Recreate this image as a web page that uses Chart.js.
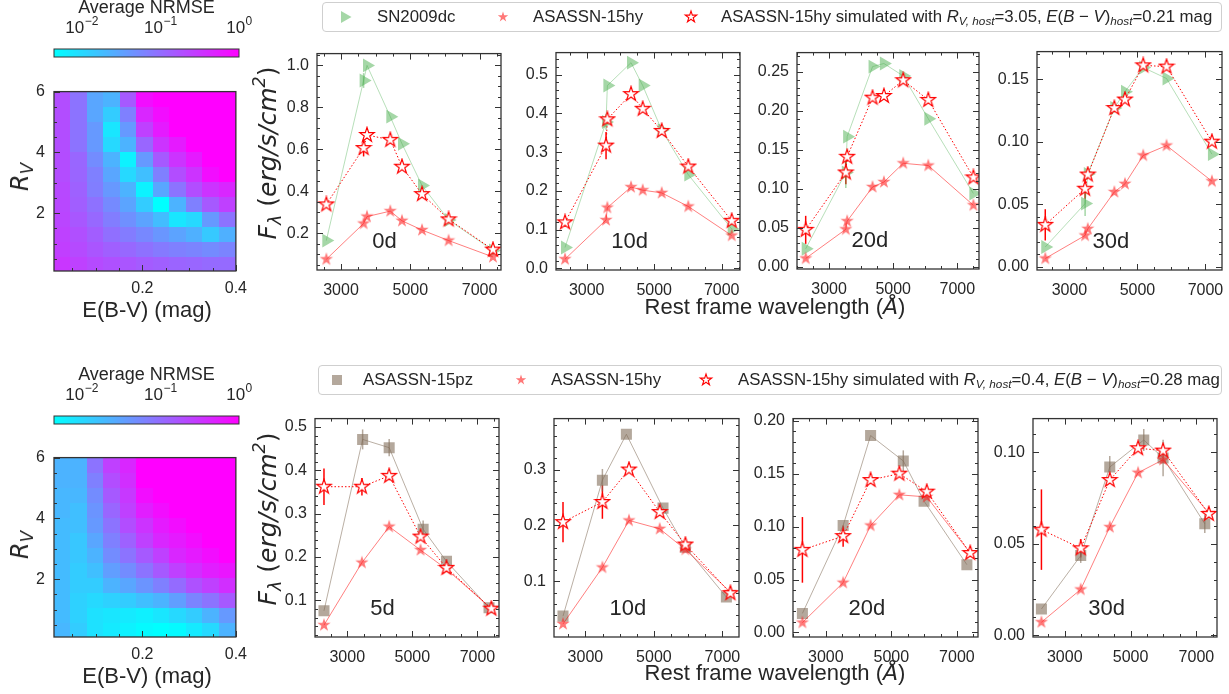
<!DOCTYPE html>
<html><head><meta charset="utf-8">
<script src="https://cdn.jsdelivr.net/npm/chart.js@4.4.1/dist/chart.umd.min.js"></script>
<style>
html,body{margin:0;padding:0;background:#fff}
body{position:relative;width:1229px;height:694px;overflow:hidden;font-family:"Liberation Sans",Arial,sans-serif;color:#262626}
canvas{position:absolute}
.t{position:absolute;white-space:nowrap;line-height:1;transform:translate(-50%,-50%)}
.rot{transform:translate(-50%,-50%) rotate(-90deg)}
.m{font-family:"DejaVu Sans",sans-serif;font-style:oblique}
.u{font-family:"DejaVu Sans",sans-serif;font-style:normal}
.leg{position:absolute;border:1px solid #cfcfcf;border-radius:4px;box-sizing:border-box;background:#fff}
.leg .e{position:absolute;white-space:nowrap;font-size:16.8px;line-height:1;top:50%;transform:translateY(-50%)}
.leg svg{position:absolute;top:50%;transform:translate(-50%,-50%)}
sub{font-size:70%;vertical-align:-0.3em;line-height:0}
sup{font-size:70%;vertical-align:0.6em;line-height:0}
</style></head><body>
<script>
// ================= DATA =================
// Heatmaps: E(B-V) cell edges, R_V cell edges, log10(average NRMSE) per cell (rows bottom -> top)
const ebvEdges = [0.011, 0.0464, 0.0818, 0.1171, 0.1525, 0.1879, 0.2233, 0.2586, 0.294, 0.3294, 0.3647, 0.4];
const rvEdges = [0.1, 0.592, 1.083, 1.575, 2.067, 2.558, 3.05, 3.542, 4.033, 4.525, 5.017, 5.508, 6.0];
const heatXTicks = [0.2, 0.4];
const heatYTicks = [2, 4, 6];
const cbarTicks = [0.01, 0.1, 1];
const cbarLogMin = -2.35, cbarLogMax = 0;
const logNrmseTop = [
  [-0.50,-0.60,-0.68,-0.74,-0.78,-0.84,-0.88,-0.92,-0.94,-0.98,-0.98],
  [-0.57,-0.68,-0.78,-0.88,-0.96,-1.04,-1.12,-1.18,-1.22,-1.28,-1.22],
  [-0.60,-0.73,-0.86,-1.02,-1.14,-1.25,-1.38,-1.50,-1.62,-1.85,-1.62],
  [-0.64,-0.80,-0.96,-1.15,-1.33,-1.50,-1.74,-2.12,-2.00,-1.41,-1.06],
  [-0.65,-0.87,-1.04,-1.27,-1.51,-1.88,-2.35,-1.65,-1.18,-0.82,-0.59],
  [-0.66,-0.89,-1.16,-1.40,-1.65,-2.23,-1.53,-1.06,-0.71,-0.47,-0.35],
  [-0.70,-0.93,-1.18,-1.53,-2.00,-1.76,-1.18,-0.71,-0.47,-0.12, 0.00],
  [-0.70,-0.94,-1.29,-1.65,-2.23,-1.41,-0.82,-0.47,-0.24, 0.00, 0.00],
  [-0.71,-1.06,-1.41,-2.00,-1.65,-0.94,-0.47,-0.24, 0.00, 0.00, 0.00],
  [-0.71,-1.06,-1.41,-2.12,-1.41,-0.59,-0.24, 0.00, 0.00, 0.00, 0.00],
  [-0.71,-1.06,-1.53,-1.88,-1.18,-0.35,-0.12, 0.00, 0.00, 0.00, 0.00],
  [-0.71,-1.06,-1.53,-1.65,-0.82,-0.12, 0.00, 0.00, 0.00, 0.00, 0.00]
];
const logNrmseBottom = [
  [-1.69,-1.88,-2.07,-2.16,-2.23,-2.30,-2.35,-2.30,-2.16,-2.00,-1.65],
  [-1.72,-1.93,-2.07,-2.12,-2.16,-2.21,-2.12,-2.00,-1.88,-1.65,-1.41],
  [-1.72,-1.93,-2.00,-1.93,-1.88,-1.76,-1.65,-1.46,-1.22,-1.06,-0.82],
  [-1.72,-1.88,-1.88,-1.65,-1.53,-1.36,-1.18,-0.99,-0.75,-0.59,-0.42],
  [-1.72,-1.88,-1.76,-1.46,-1.29,-1.06,-0.82,-0.59,-0.42,-0.28,-0.19],
  [-1.72,-1.83,-1.65,-1.29,-1.06,-0.82,-0.59,-0.35,-0.24,-0.12, 0.00],
  [-1.72,-1.83,-1.53,-1.18,-0.89,-0.59,-0.35,-0.24,-0.12, 0.00, 0.00],
  [-1.72,-1.76,-1.41,-1.06,-0.71,-0.47,-0.24,-0.12, 0.00, 0.00, 0.00],
  [-1.69,-1.76,-1.36,-0.94,-0.59,-0.28,-0.12, 0.00, 0.00, 0.00, 0.00],
  [-1.69,-1.69,-1.29,-0.82,-0.52,-0.12, 0.00, 0.00, 0.00, 0.00, 0.00],
  [-1.65,-1.65,-1.18,-0.71,-0.42, 0.00, 0.00, 0.00, 0.00, 0.00, 0.00],
  [-1.65,-1.65,-1.06,-0.59,-0.35, 0.00, 0.00, 0.00, 0.00, 0.00, 0.00]
];

// Top row: SN2009dc vs ASASSN-15hy (rest-frame wavelength in Angstrom, flux)
const xTicksSED = [3000, 5000, 7000];
const wl_0d  = [2576, 3652, 3750, 4423, 4760, 5338, 6106, 7387];
const sn09dc_0d = [0.166, 0.927, 0.999, 0.755, 0.626, 0.428, 0.264, 0.119];
const sn09dcErr_0d = [0, 0.035, 0, 0, 0, 0, 0, 0];
const hy_0d = [0.077, 0.247, 0.280, 0.306, 0.260, 0.216, 0.166, 0.088];
const hySim_0d = [0.338, 0.606, 0.668, 0.645, 0.517, 0.387, 0.267, 0.123];
const hySimErr_0d = [0.012, 0.04, 0.012, 0.01, 0.01, 0.008, 0.006, 0.006];

const wl_10d = [2357, 3573, 3612, 4313, 4659, 5222, 6010, 7296];
const sn09dc_10d = [0.054, 0.378, 0.472, 0.531, 0.472, 0.357, 0.242, 0.102];
const sn09dcErr_10d = [0, 0.02, 0, 0, 0, 0, 0, 0];
const hy_10d = [0.024, 0.125, 0.157, 0.210, 0.202, 0.195, 0.160, 0.085];
const hySim_10d = [0.119, 0.317, 0.385, 0.450, 0.412, 0.355, 0.263, 0.123];
const hySimErr_10d = [0.012, 0.035, 0.01, 0.006, 0.006, 0.005, 0.004, 0.004];

const wl_20d = [2271, 3522, 3563, 4356, 4709, 5313, 6094, 7500];
const sn09dc_20d = [0.023, 0.121, 0.167, 0.257, 0.261, 0.245, 0.190, 0.094];
const sn09dcErr_20d = [0, 0.02, 0, 0, 0, 0, 0, 0];
const hy_20d = [0.0106, 0.048, 0.0585, 0.1024, 0.1087, 0.1328, 0.1299, 0.0789];
const hySim_20d = [0.0473, 0.121, 0.1412, 0.2171, 0.2193, 0.2395, 0.2142, 0.1147];
const hySimErr_20d = [0.018, 0.015, 0.006, 0.003, 0.003, 0.003, 0.003, 0.003];

const wl_30d = [2288, 3460, 3539, 4319, 4633, 5169, 5855, 7190];
const sn09dc_30d = [0.0158, 0.0505, 0.0742, 0.1269, 0.140, 0.1593, 0.1505, 0.0900];
const sn09dcErr_30d = [0, 0.01, 0, 0, 0, 0, 0, 0];
const hy_30d = [0.0066, 0.025, 0.0303, 0.0598, 0.0663, 0.089, 0.0969, 0.0684];
const hySim_30d = [0.0335, 0.0624, 0.0737, 0.1269, 0.1337, 0.161, 0.160, 0.100];
const hySimErr_30d = [0.0125, 0.008, 0.003, 0.002, 0.002, 0.002, 0.002, 0.002];

// Bottom row: ASASSN-15pz vs ASASSN-15hy
const wlPz_5d = [2285, 3472, 4288, 5331, 6049, 7356];
const pz_5d = [0.076, 0.471, 0.452, 0.264, 0.190, 0.083];
const pzErr_5d = [0, 0.023, 0.02, 0.02, 0.005, 0];
const wlHy_5d = [2285, 3451, 4288, 5251, 6049, 7426];
const hyB_5d = [0.043, 0.187, 0.270, 0.216, 0.172, 0.081];
const hySimB_5d = [0.362, 0.362, 0.387, 0.247, 0.175, 0.081];
const hySimErrB_5d = [0.042, 0.02, 0.01, 0.008, 0.005, 0.004];

const wlPz_10d = [2346, 3496, 4197, 5266, 5920, 7117];
const pz_10d = [0.038, 0.281, 0.363, 0.231, 0.161, 0.072];
const pzErr_10d = [0, 0.02, 0, 0, 0, 0];
const wlHy_10d = [2346, 3496, 4273, 5170, 5920, 7234];
const hyB_10d = [0.024, 0.125, 0.209, 0.194, 0.157, 0.081];
const hySimB_10d = [0.206, 0.242, 0.300, 0.224, 0.166, 0.079];
const hySimErrB_10d = [0.036, 0.03, 0.006, 0.005, 0.004, 0.003];

const wlPz_20d = [2287, 3529, 4367, 5364, 5998, 7304];
const pz_20d = [0.018, 0.101, 0.186, 0.162, 0.124, 0.064];
const pzErr_20d = [0, 0, 0, 0.01, 0, 0];
const wlHy_20d = [2287, 3529, 4367, 5243, 6081, 7406];
const hyB_20d = [0.0093, 0.047, 0.101, 0.130, 0.128, 0.075];
const hySimB_20d = [0.078, 0.091, 0.144, 0.150, 0.133, 0.075];
const hySimErrB_20d = [0.031, 0.01, 0.003, 0.003, 0.003, 0.002];

const wlPz_30d = [2292, 3486, 4368, 5401, 5988, 7255];
const pz_30d = [0.0144, 0.0436, 0.092, 0.1068, 0.097, 0.061];
const pzErr_30d = [0, 0.004, 0.006, 0.006, 0.01, 0.005];
const wlHy_30d = [2292, 3486, 4368, 5228, 5988, 7378];
const hyB_30d = [0.0072, 0.0251, 0.0592, 0.0889, 0.096, 0.0669];
const hySimB_30d = [0.0578, 0.0476, 0.0849, 0.1023, 0.101, 0.0664];
const hySimErrB_30d = [0.022, 0.005, 0.002, 0.002, 0.002, 0.002];

// ================= RENDERING =================
const FONT = '"Liberation Sans", Arial, sans-serif';
const INK = '#262626';
Chart.defaults.font.family = FONT;
Chart.defaults.color = INK;

const C_GREEN = 'rgba(76,175,80,0.5)';
const C_RED = 'rgba(255,30,30,0.6)';
const C_SIM = 'rgba(255,0,0,1)';
const C_PZ = 'rgba(130,110,90,0.6)';

function mkCanvas(left, top, w, h) {
  const c = document.createElement('canvas');
  c.width = w; c.height = h;
  c.style.left = left + 'px'; c.style.top = top + 'px';
  c.style.width = w + 'px'; c.style.height = h + 'px';
  document.body.appendChild(c);
  return c;
}
function starPts(cx, cy, R, ratio) {
  const pts = [];
  for (let k = 0; k < 10; k++) {
    const rad = k % 2 ? R * ratio : R;
    const a = -Math.PI / 2 + k * Math.PI / 5;
    pts.push([cx + rad * Math.cos(a), cy + rad * Math.sin(a)]);
  }
  return pts;
}
function starImage(size, R, fill, stroke, lw) {
  const c = document.createElement('canvas');
  c.width = c.height = size;
  const g = c.getContext('2d');
  const pts = starPts(size / 2, size / 2, R, 0.382);
  g.beginPath();
  pts.forEach((p, i) => i ? g.lineTo(p[0], p[1]) : g.moveTo(p[0], p[1]));
  g.closePath();
  if (fill) { g.fillStyle = fill; g.fill(); }
  if (stroke) { g.strokeStyle = stroke; g.lineWidth = lw; g.stroke(); }
  return c;
}
const imgStarFilled = starImage(16, 7, C_RED, null, 0);
const imgStarOpen = starImage(18, 7.6, '#ffffff', C_SIM, 1.2);

function coolColor(lv) {
  let t = (lv - cbarLogMin) / (cbarLogMax - cbarLogMin);
  t = Math.max(0, Math.min(1, t));
  return `rgb(${Math.round(255 * t)},${Math.round(255 * (1 - t))},255)`;
}

// frame + inward ticks
Chart.register({
  id: 'frame',
  afterDraw(chart, args, o) {
    if (!o || !o.on) return;
    const { ctx, chartArea: a, scales: { x, y } } = chart;
    ctx.save();
    ctx.strokeStyle = '#333333';
    ctx.lineWidth = 1;
    const all = o.sides === 'all';
    const minorVals = (sc, step) => {
      const out = []; const n0 = Math.ceil(sc.min / step - 1e-9), n1 = Math.floor(sc.max / step + 1e-9);
      for (let n = n0; n <= n1; n++) out.push(n * step);
      return out;
    };
    const tickX = (v, len) => {
      const p = Math.round(x.getPixelForValue(v)) + 0.5;
      ctx.beginPath(); ctx.moveTo(p, a.bottom); ctx.lineTo(p, a.bottom - len);
      if (all) { ctx.moveTo(p, a.top); ctx.lineTo(p, a.top + len); }
      ctx.stroke();
    };
    const tickY = (v, len) => {
      const p = Math.round(y.getPixelForValue(v)) + 0.5;
      ctx.beginPath(); ctx.moveTo(a.left, p); ctx.lineTo(a.left + len, p);
      if (all) { ctx.moveTo(a.right, p); ctx.lineTo(a.right - len, p); }
      ctx.stroke();
    };
    minorVals(x, o.xMinor).forEach(v => tickX(v, 3));
    minorVals(y, o.yMinor).forEach(v => tickY(v, 3));
    x.ticks.forEach(t => tickX(t.value, 6));
    y.ticks.forEach(t => tickY(t.value, 6));
    ctx.lineWidth = 1.3;
    ctx.strokeRect(a.left, a.top, a.right - a.left, a.bottom - a.top);
    if (o.phase) {
      ctx.font = `22px ${FONT}`; ctx.fillStyle = INK; ctx.textAlign = 'left'; ctx.textBaseline = 'alphabetic';
      ctx.fillText(o.phase, a.left + 0.3 * (a.right - a.left), a.bottom - 0.1 * (a.bottom - a.top));
    }
    ctx.restore();
  }
});
// error bars
Chart.register({
  id: 'errbars',
  beforeDatasetsDraw(chart) {
    const { ctx, scales: { x, y } } = chart;
    chart.data.datasets.forEach(ds => {
      if (!ds.errors) return;
      ctx.save(); ctx.strokeStyle = ds.errColor; ctx.lineWidth = 1.5;
      ds.data.forEach((p, i) => {
        const e = ds.errors[i]; if (!e) return;
        const px = x.getPixelForValue(p.x);
        ctx.beginPath(); ctx.moveTo(px, y.getPixelForValue(p.y - e)); ctx.lineTo(px, y.getPixelForValue(p.y + e)); ctx.stroke();
      });
      ctx.restore();
    });
  }
});
// heatmap cells
Chart.register({
  id: 'heat',
  beforeDatasetsDraw(chart, args, o) {
    if (!o || !o.grid) return;
    const { ctx, scales: { x, y } } = chart;
    o.grid.forEach((row, j) => row.forEach((lv, i) => {
      const x0 = x.getPixelForValue(ebvEdges[i]), x1 = x.getPixelForValue(ebvEdges[i + 1]);
      const y0 = y.getPixelForValue(rvEdges[j + 1]), y1 = y.getPixelForValue(rvEdges[j]);
      ctx.fillStyle = coolColor(lv);
      ctx.fillRect(Math.floor(x0), Math.floor(y0), Math.ceil(x1) - Math.floor(x0), Math.ceil(y1) - Math.floor(y0));
    }));
  }
});
// colorbar
Chart.register({
  id: 'cbar',
  afterDraw(chart, args, o) {
    if (!o || !o.on) return;
    const { ctx, chartArea: a, scales: { x } } = chart;
    ctx.save();
    for (let px = Math.floor(a.left); px < a.right; px++) {
      ctx.fillStyle = coolColor(Math.log10(x.getValueForPixel(px + 0.5)));
      ctx.fillRect(px, a.top, 1, a.bottom - a.top);
    }
    ctx.strokeStyle = '#333'; ctx.lineWidth = 1;
    ctx.strokeRect(a.left, a.top, a.right - a.left, a.bottom - a.top);
    ctx.fillStyle = INK; ctx.textBaseline = 'alphabetic';
    cbarTicks.forEach(v => {
      const e = Math.round(Math.log10(v));
      const es = e < 0 ? '\u2212' + (-e) : String(e);
      ctx.font = `17px ${FONT}`; const w1 = ctx.measureText('10').width;
      ctx.font = `12px ${FONT}`; const w2 = ctx.measureText(es).width;
      const cx = x.getPixelForValue(v);
      const left = cx - (w1 + w2) / 2;
      ctx.font = `17px ${FONT}`; ctx.textAlign = 'left'; ctx.fillText('10', left, a.top + o.labelDy);
      ctx.font = `12px ${FONT}`; ctx.fillText(es, left + w1 + 0.5, a.top + o.labelDy - 8);
    });
    ctx.font = `18px ${FONT}`; ctx.textAlign = 'center';
    ctx.fillText('Average NRMSE', (a.left + a.right) / 2, a.top + o.titleDy);
    ctx.restore();
  }
});

function colorbar(box, canvasTop) {
  const W = 260, H = box[3] - canvasTop + 4;
  const cv = mkCanvas(0, canvasTop, W, H);
  new Chart(cv, {
    type: 'scatter', data: { datasets: [] },
    options: {
      responsive: false, animation: false, events: [],
      layout: { padding: { left: box[0], top: box[1] - canvasTop, right: W - box[2], bottom: 4 } },
      plugins: { legend: { display: false }, tooltip: { enabled: false }, cbar: { on: true, labelDy: -16, titleDy: -36 } },
      scales: {
        x: { type: 'logarithmic', display: false, min: Math.pow(10, cbarLogMin), max: Math.pow(10, cbarLogMax) },
        y: { display: false, min: 0, max: 1 }
      }
    }
  });
}

function heatmap(box, grid) {
  const PT = 14, PR = 16, PB = 34;
  const W = box[2] + PR, H = box[3] - box[1] + PT + PB;
  const cv = mkCanvas(0, box[1] - PT, W, H);
  new Chart(cv, {
    type: 'scatter', data: { datasets: [] },
    options: {
      responsive: false, animation: false, events: [],
      layout: { padding: { top: PT, right: PR, left: 0, bottom: 0 } },
      plugins: { legend: { display: false }, tooltip: { enabled: false }, heat: { grid }, frame: { on: true, xMinor: 0.05, yMinor: 0.5, sides: 'lb' } },
      scales: {
        x: { type: 'linear', min: ebvEdges[0], max: ebvEdges[ebvEdges.length - 1],
          grid: { display: false, drawTicks: false }, border: { display: false },
          afterBuildTicks: s => { s.ticks = heatXTicks.map(v => ({ value: v })); },
          afterFit: s => { s.height = PB; },
          ticks: { padding: 8, font: { size: 16 }, autoSkip: false, maxRotation: 0, callback: v => v.toFixed(1) } },
        y: { type: 'linear', min: rvEdges[0], max: rvEdges[rvEdges.length - 1],
          grid: { display: false, drawTicks: false }, border: { display: false },
          afterBuildTicks: s => { s.ticks = heatYTicks.map(v => ({ value: v })); },
          afterFit: s => { s.width = box[0]; },
          ticks: { padding: 9, font: { size: 16 }, autoSkip: false, callback: v => String(v) } }
      }
    }
  });
}

const pts = (wl, v) => wl.map((x, i) => ({ x, y: v[i] }));
function dsSim(wl, v, err) {
  return { data: pts(wl, v), showLine: true, borderColor: C_SIM, borderWidth: 1, borderDash: [1.5, 2],
    pointStyle: imgStarOpen, pointRadius: 6, errors: err, errColor: C_SIM, order: 0 };
}
function dsHy(wl, v) {
  return { data: pts(wl, v), showLine: true, borderColor: 'rgba(255,0,0,0.5)', borderWidth: 1,
    pointStyle: imgStarFilled, pointRadius: 6, order: 1 };
}
function dsGreen(wl, v, err) {
  return { data: pts(wl, v), showLine: true, borderColor: 'rgba(76,175,80,0.4)', borderWidth: 1,
    pointStyle: 'triangle', pointRotation: 90, pointRadius: 8, backgroundColor: C_GREEN, pointBorderWidth: 0,
    errors: err, errColor: 'rgba(76,175,80,0.5)', order: 2 };
}
function dsPz(wl, v, err) {
  return { data: pts(wl, v), showLine: true, borderColor: 'rgba(130,110,90,0.55)', borderWidth: 1,
    pointStyle: 'rect', pointRadius: 7.8, backgroundColor: C_PZ, pointBorderWidth: 0,
    errors: err, errColor: 'rgba(130,110,90,0.6)', order: 2 };
}

function sedPanel(p) {
  const PL = 62, PT = 14, PR = 30, PB = 36;
  const b = p.box;
  const W = b[2] - b[0] + PL + PR, H = b[3] - b[1] + PT + PB;
  const cv = mkCanvas(b[0] - PL, b[1] - PT, W, H);
  new Chart(cv, {
    type: 'scatter',
    data: { datasets: p.sets.map(d => Object.assign({ clip: 0, tension: 0 }, d)) },
    options: {
      responsive: false, animation: false, events: [],
      layout: { padding: { top: PT, right: PR, left: 0, bottom: 0 } },
      plugins: { legend: { display: false }, tooltip: { enabled: false },
        frame: { on: true, xMinor: 500, yMinor: p.ym, sides: 'all', phase: p.phase } },
      scales: {
        x: { type: 'linear', min: p.xr[0], max: p.xr[1],
          grid: { display: false, drawTicks: false }, border: { display: false },
          afterBuildTicks: s => { s.ticks = xTicksSED.map(v => ({ value: v })); },
          afterFit: s => { s.height = PB; },
          ticks: { padding: 11, font: { size: 16 }, autoSkip: false, maxRotation: 0, callback: v => String(v) } },
        y: { type: 'linear', min: p.yr[0], max: p.yr[1],
          grid: { display: false, drawTicks: false }, border: { display: false },
          afterBuildTicks: s => { s.ticks = p.yt.map(v => ({ value: v })); },
          afterFit: s => { s.width = PL; },
          ticks: { padding: 8, font: { size: 16 }, autoSkip: false, callback: v => v.toFixed(p.dec) } }
      }
    }
  });
}

// ---- layout ----
colorbar([54, 49, 239, 57], 0);
heatmap([54, 87, 239, 271], logNrmseTop);
colorbar([54, 416, 239, 424], 360);
heatmap([54, 453, 239, 637], logNrmseBottom);

const panels = [
  { box: [317, 50, 501, 270], xr: [2307, 7618], yr: [0.026, 1.055], yt: [0.2, 0.4, 0.6, 0.8, 1.0], ym: 0.05, dec: 1, phase: '0d',
    sets: [dsSim(wl_0d, hySim_0d, hySimErr_0d), dsHy(wl_0d, hy_0d), dsGreen(wl_0d, sn09dc_0d, sn09dcErr_0d)] },
  { box: [556, 49, 740, 270], xr: [2090, 7542], yr: [-0.004, 0.557], yt: [0, 0.1, 0.2, 0.3, 0.4, 0.5], ym: 0.02, dec: 1, phase: '10d',
    sets: [dsSim(wl_10d, hySim_10d, hySimErr_10d), dsHy(wl_10d, hy_10d), dsGreen(wl_10d, sn09dc_10d, sn09dcErr_10d)] },
  { box: [797, 49, 979, 269], xr: [2000, 7675], yr: [-0.003, 0.275], yt: [0, 0.05, 0.1, 0.15, 0.2, 0.25], ym: 0.01, dec: 2, phase: '20d',
    sets: [dsSim(wl_20d, hySim_20d, hySimErr_20d), dsHy(wl_20d, hy_20d), dsGreen(wl_20d, sn09dc_20d, sn09dcErr_20d)] },
  { box: [1037, 48, 1222, 270], xr: [2045, 7486], yr: [-0.0026, 0.172], yt: [0, 0.05, 0.1, 0.15], ym: 0.01, dec: 2, phase: '30d',
    sets: [dsSim(wl_30d, hySim_30d, hySimErr_30d), dsHy(wl_30d, hy_30d), dsGreen(wl_30d, sn09dc_30d, sn09dcErr_30d)] },
  { box: [315, 415, 499, 637], xr: [2009, 7662], yr: [0.0156, 0.519], yt: [0.1, 0.2, 0.3, 0.4, 0.5], ym: 0.02, dec: 1, phase: '5d',
    sets: [dsSim(wlHy_5d, hySimB_5d, hySimErrB_5d), dsHy(wlHy_5d, hyB_5d), dsPz(wlPz_5d, pz_5d, pzErr_5d)] },
  { box: [554, 415, 739, 637], xr: [2083, 7485], yr: [0.0007, 0.391], yt: [0.1, 0.2, 0.3], ym: 0.02, dec: 1, phase: '10d',
    sets: [dsSim(wlHy_10d, hySimB_10d, hySimErrB_10d), dsHy(wlHy_10d, hyB_10d), dsPz(wlPz_10d, pz_10d, pzErr_10d)] },
  { box: [793, 415, 978, 637], xr: [2000, 7643], yr: [-0.0043, 0.202], yt: [0, 0.05, 0.1, 0.15, 0.2], ym: 0.01, dec: 2, phase: '20d',
    sets: [dsSim(wlHy_20d, hySimB_20d, hySimErrB_20d), dsHy(wlHy_20d, hyB_20d), dsPz(wlPz_20d, pz_20d, pzErr_20d)] },
  { box: [1033, 415, 1217, 637], xr: [2036, 7626], yr: [-0.0009, 0.1185], yt: [0, 0.05, 0.1], ym: 0.01, dec: 2, phase: '30d',
    sets: [dsSim(wlHy_30d, hySimB_30d, hySimErrB_30d), dsHy(wlHy_30d, hyB_30d), dsPz(wlPz_30d, pz_30d, pzErr_30d)] }
];
panels.forEach(sedPanel);

// ---- text ----
function text(html, x, y, size, cls) {
  const d = document.createElement('div');
  d.className = 't' + (cls ? ' ' + cls : '');
  d.style.left = x + 'px'; d.style.top = y + 'px'; d.style.fontSize = size + 'px';
  d.innerHTML = html;
  document.body.appendChild(d);
}
const fLabel = '<span class="m">F<sub>λ</sub></span><span class="u"> (</span><span class="m">erg/s/cm<sup>2</sup></span><span class="u">)</span>';
const rvLabel = '<span class="m">R<sub>V</sub></span>';
text('E(B-V) (mag)', 147, 310, 22);
text('E(B-V) (mag)', 147, 676, 22);
text(rvLabel, 20, 177, 24, 'rot');
text(rvLabel, 20, 545, 24, 'rot');
text(fLabel, 267, 153, 25, 'rot');
text(fLabel, 267, 519, 25, 'rot');
text('Rest frame wavelength (<span class="m">Å</span>)', 775, 307, 22);
text('Rest frame wavelength (<span class="m">Å</span>)', 775, 673, 22);

// ---- legends ----
function starSvg(fill, stroke, R) {
  const s = 2 * R + 4;
  const p = starPts(s / 2, s / 2, R, 0.382).map(q => q[0].toFixed(2) + ',' + q[1].toFixed(2)).join(' ');
  return `<svg width="${s}" height="${s}"><polygon points="${p}" fill="${fill}" stroke="${stroke}" stroke-width="1.1"/></svg>`;
}
function legend(box, items) {
  const d = document.createElement('div');
  d.className = 'leg';
  d.style.left = box[0] + 'px'; d.style.top = box[1] + 'px';
  d.style.width = (box[2] - box[0]) + 'px'; d.style.height = (box[3] - box[1]) + 'px';
  let h = '';
  items.forEach(it => {
    h += it.marker.replace('<svg', `<svg style="left:${it.mx - box[0]}px"`);
    h += `<span class="e" style="left:${it.tx - box[0]}px">${it.label}</span>`;
  });
  d.innerHTML = h;
  document.body.appendChild(d);
}
const triSvg = `<svg width="12" height="13"><polygon points="1,0.5 11.5,6.5 1,12.5" fill="${C_GREEN}"/></svg>`;
const sqSvg = `<svg width="11" height="11"><rect x="0.5" y="0.5" width="10" height="10" fill="${C_PZ}"/></svg>`;
const simText = (rv, ebv) => `ASASSN-15hy simulated with <i>R</i><sub><i>V, host</i></sub>=${rv}, <i>E</i>(<i>B</i> − <i>V</i>)<sub><i>host</i></sub>=${ebv} mag`;
legend([322, 2, 1222, 32], [
  { marker: triSvg, mx: 345, tx: 376, label: 'SN2009dc' },
  { marker: starSvg(C_RED, 'none', 5.5), mx: 502, tx: 532, label: 'ASASSN-15hy' },
  { marker: starSvg('#fff', C_SIM, 6), mx: 690, tx: 720, label: simText('3.05', '0.21') }
]);
legend([318, 365, 1222, 395], [
  { marker: sqSvg, mx: 336, tx: 362, label: 'ASASSN-15pz' },
  { marker: starSvg(C_RED, 'none', 5.5), mx: 520, tx: 550, label: 'ASASSN-15hy' },
  { marker: starSvg('#fff', C_SIM, 6), mx: 705, tx: 737, label: simText('0.4', '0.28') }
]);
</script>
</body></html>
